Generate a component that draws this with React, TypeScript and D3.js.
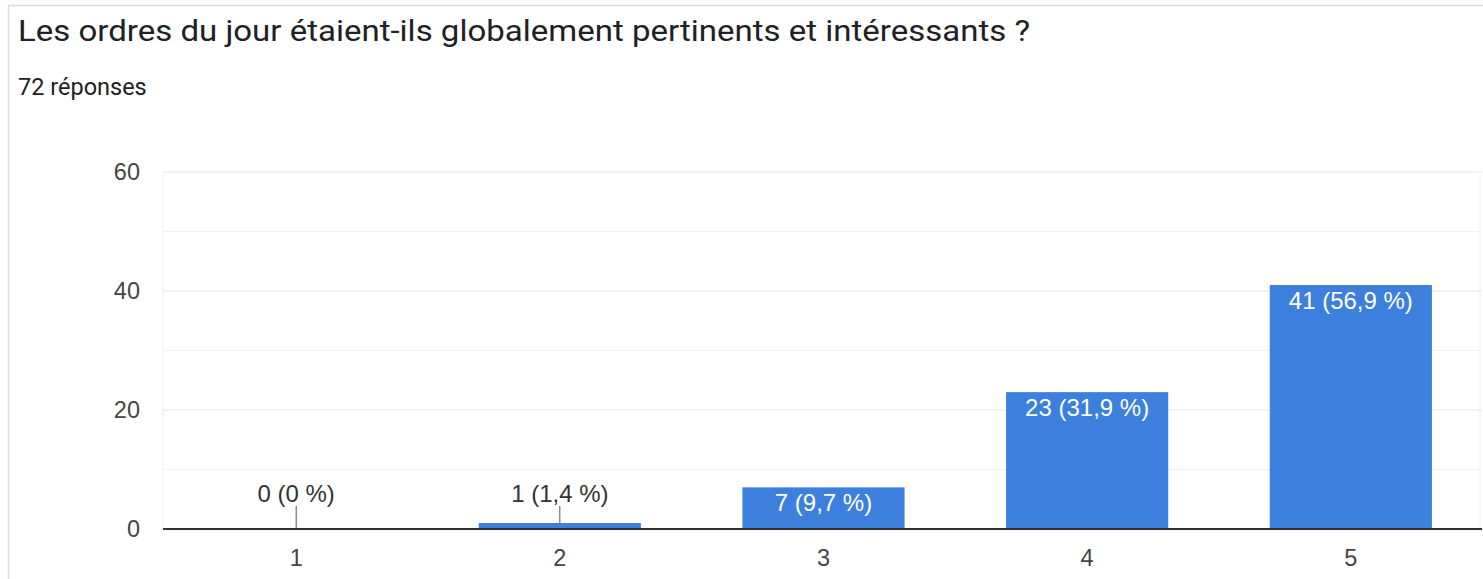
import React from "react";
import * as d3 from "d3";

const title = "Les ordres du jour étaient-ils globalement pertinents et intéressants ?";
const subtitle = "72 réponses";
const categories = ["1", "2", "3", "4", "5"];
const counts = [0, 1, 7, 23, 41];
const labels = ["0 (0 %)", "1 (1,4 %)", "7 (9,7 %)", "23 (31,9 %)", "41 (56,9 %)"];
const yTicks = [0, 20, 40, 60];
const yMinor = [10, 30, 50];

const W = 1483;
const H = 579;
const left = 163;
const right = 1482;
const top = 172;
const bottom = 529;

export default function App() {
  const x = d3.scaleBand<string>().domain(categories).range([left + 2, right]).paddingInner(0.385).paddingOuter(0.19);
  const y = d3.scaleLinear().domain([0, 60]).range([bottom, top]);
  const font = "'Liberation Sans', Arial, sans-serif";
  return (
    <svg width={W} height={H} style={{ position: "absolute", left: 0, top: 0, display: "block", background: "#fff" }}>
      <rect x={8.5} y={5.5} width={W + 10} height={H + 10} fill="#fff" stroke="#dadce0" strokeWidth={1.5} />
      <text x={18} y={41} fontFamily="Roboto, sans-serif" fontSize={29} fill="#202124" textLength={1012} lengthAdjust="spacingAndGlyphs">{title}</text>
      <text x={18} y={95} fontFamily="Roboto, sans-serif" fontSize={23.5} fill="#202124">{subtitle}</text>
      <line x1={left} x2={left} y1={top} y2={bottom} stroke="#eeeeee" />
      <line x1={right - 2} x2={right - 2} y1={top} y2={bottom} stroke="#f0f0f0" />
      {yMinor.map((t) => (
        <line key={"m" + t} x1={left} x2={right} y1={y(t)} y2={y(t)} stroke="#f2f2f2" />
      ))}
      {yTicks.filter((t) => t !== 0).map((t) => (
        <line key={"g" + t} x1={left} x2={right} y1={y(t)} y2={y(t)} stroke="#e6e6e6" strokeWidth={1.2} />
      ))}
      {yTicks.map((t) => (
        <text key={"t" + t} x={140} y={y(t)} dy="0.36em" textAnchor="end" fontFamily={font} fontSize={23.5} fill="#444">{t}</text>
      ))}
      {categories.map((c, i) => {
        const bx = x(c)!;
        const bw = x.bandwidth();
        const yt = y(counts[i]);
        const h = bottom - yt;
        const cx = bx + bw / 2;
        const inside = h > 30;
        return (
          <g key={c}>
            {counts[i] > 0 && <rect x={bx} y={yt} width={bw} height={h} fill="#3c7fdc" />}
            {inside ? (
              <text x={cx} y={yt + 24} textAnchor="middle" fontFamily={font} fontSize={24} fill="#fff">{labels[i]}</text>
            ) : (
              <g>
                <line x1={cx} x2={cx} y1={506} y2={yt} stroke="#555" strokeWidth={1} />
                <text x={cx} y={502} textAnchor="middle" fontFamily={font} fontSize={24} fill="#333">{labels[i]}</text>
              </g>
            )}
            <text x={cx} y={566} textAnchor="middle" fontFamily={font} fontSize={23.5} fill="#444">{c}</text>
          </g>
        );
      })}
      <line x1={left} x2={right} y1={bottom} y2={bottom} stroke="#333" strokeWidth={2} />
    </svg>
  );
}
